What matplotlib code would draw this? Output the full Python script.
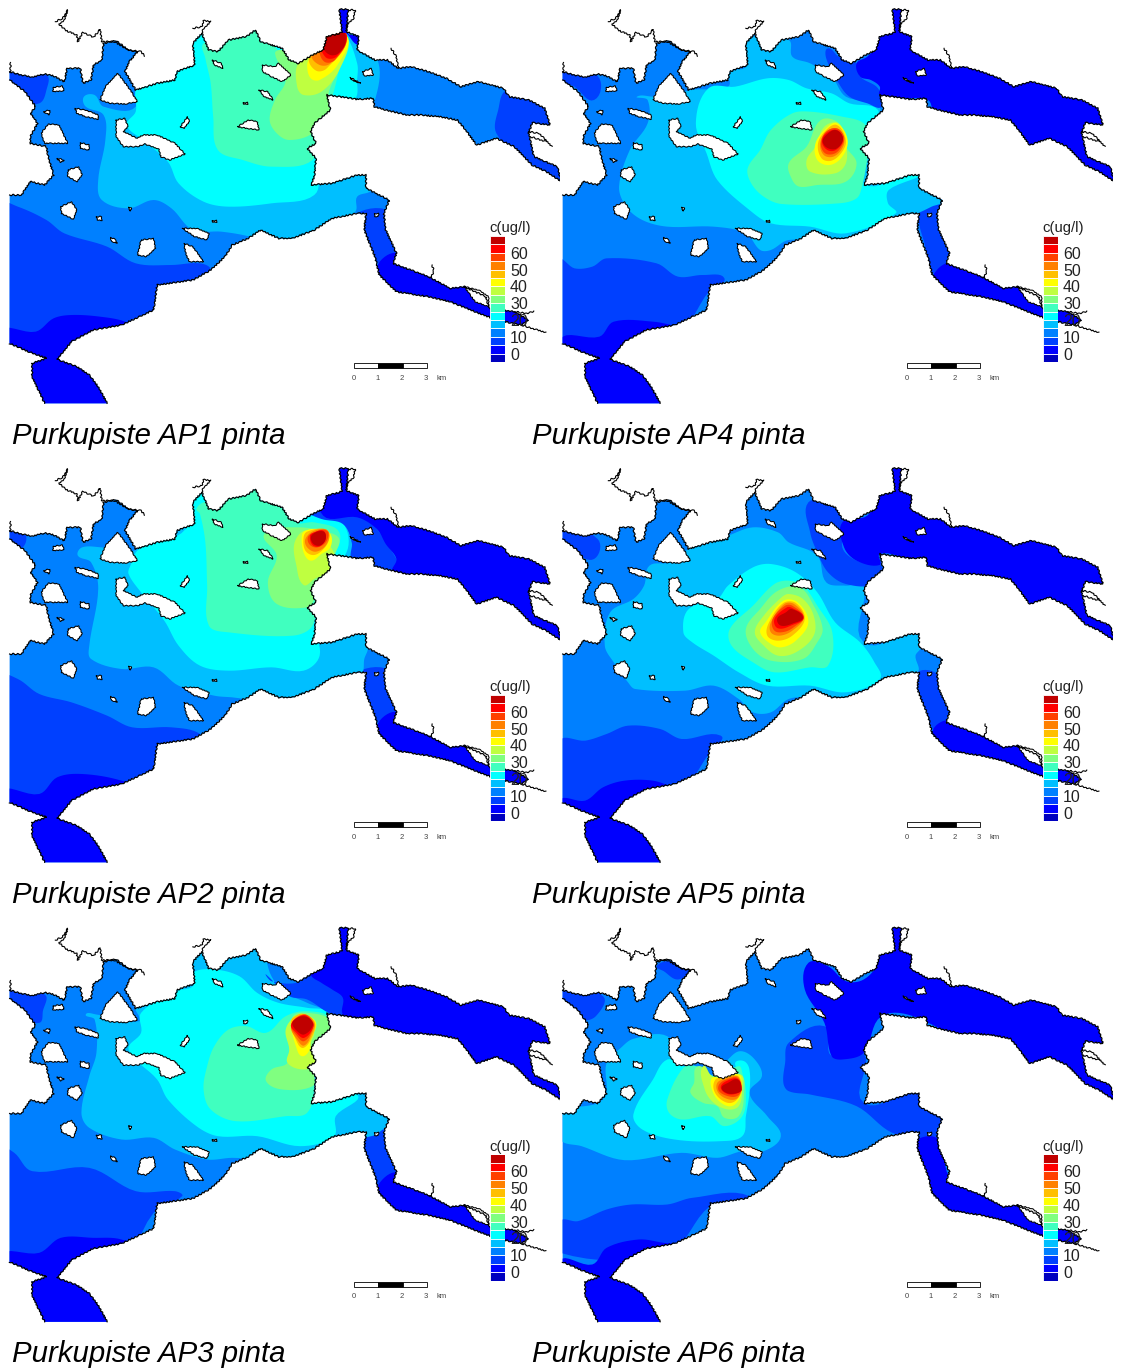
import numpy as np
import matplotlib
matplotlib.use("Agg")
from matplotlib import pyplot as plt
from matplotlib.patches import Polygon

W, H = 1123, 1371

# colour classes of the legend, lowest first (5 ug/l per class)
level_edges = [-5, 0, 5, 10, 15, 20, 25, 30, 35, 40, 45, 50, 55, 60, 65]
level_colors = ["#0000bf", "#0000ff", "#0040ff", "#0080ff", "#00bfff", "#00ffff", "#40ffbf", "#80ff80",
                "#bfff40", "#ffff00", "#ffbf00", "#ff8000", "#ff4000", "#ff0000", "#c00000"]
legend_ticks = [0, 10, 20, 30, 40, 50, 60]
scale_km = [0, 1, 2, 3]

# map outline, in map units
water = [(27,215),(60,225),(90,232),(125,222),(150,228),(180,245),(188,205),(225,205),(232,250),(255,240),
         (262,195),(285,180),(290,130),(325,122),(360,150),(385,155),(362,185),(350,215),(380,270),(440,250),
         (490,240),(495,215),(545,195),(540,130),(565,100),(585,150),(610,155),(640,120),(690,110),(715,90),
         (730,125),(790,145),(810,180),(835,190),(875,165),(905,150),(915,110),(950,100),(958,95),(950,28),
         (975,28),(970,95),(1005,110),(1000,150),(1050,180),(1085,180),(1115,205),(1150,200),(1200,215),
         (1250,235),(1290,260),(1340,245),(1410,265),(1425,290),(1480,300),(1525,325),(1540,375),(1490,368),
         (1480,400),(1495,470),(1560,500),(1572,545),(1530,515),(1490,495),(1440,440),(1390,415),(1335,435),
         (1300,385),(1280,360),(1230,350),(1180,345),(1140,345),(1080,330),(1048,320),(1045,295),(1000,298),
         (950,290),(915,285),(925,330),(880,370),(870,395),(885,430),(860,445),(885,475),(880,530),(870,555),
         (930,550),(1000,525),(1025,525),(1025,565),(1090,600),(1075,640),(1080,690),(1110,760),(1100,790),
         (1200,830),(1260,865),(1300,860),(1360,890),(1370,925),(1440,935),(1480,960),(1460,975),(1390,960),
         (1330,935),(1260,905),(1200,890),(1110,875),(1062,825),(1050,770),(1020,690),(1025,640),(1000,640),
         (930,655),(880,690),(820,715),(780,715),(730,690),(695,715),(650,735),(630,770),(590,810),(540,840),
         (440,855),(430,930),(340,975),(260,990),(200,1025),(160,1078),(215,1100),(250,1125),(275,1160),
         (300,1210),(125,1210),(90,1130),(90,1090),(130,1075),(80,1055),(27,1030),(27,585),(60,585),(85,545),
         (125,555),(150,525),(135,470),(130,440),(85,430),(85,410),(105,370),(85,340),(100,320),(70,275),(27,240)]

islands = [[(280,300),(295,260),(330,220),(365,270),(385,305),(350,312),(310,310)],
           [(150,262),(175,258),(180,272),(148,275)],
           [(115,400),(135,372),(165,375),(190,430),(125,430)],
           [(210,325),(240,330),(275,345),(275,358),(240,350),(215,340)],
           [(325,360),(350,355),(358,380),(345,395),(385,415),(400,405),(440,405),(490,430),(518,462),(475,480),
            (450,470),(445,448),(405,432),(385,440),(345,440),(325,410)],
           [(225,428),(250,435),(250,450),(225,445)],
           [(190,510),(220,500),(230,525),(215,545),(190,530)],
           [(160,475),(180,480),(170,488)],
           [(170,620),(200,605),(215,630),(205,658),(172,640)],
           [(270,650),(285,650),(285,662),(272,660)],
           [(310,712),(325,720),(328,730),(312,725)],
           [(395,720),(430,715),(435,745),(410,770),(385,765)],
           [(510,685),(550,685),(585,700),(580,720),(545,710)],
           [(515,730),(540,740),(570,785),(530,785),(520,760)],
           [(665,380),(695,360),(720,365),(725,390),(690,385)],
           [(505,380),(525,350),(530,365),(515,385)],
           [(595,180),(620,190),(625,205),(600,195)],
           [(735,195),(770,200),(780,190),(815,225),(790,245),(760,230),(735,215)],
           [(725,270),(750,275),(765,300),(740,290)],
           [(1015,215),(1040,205),(1045,225),(1020,228)],
           [(980,232),(1010,250),(985,240)],
           [(1300,860),(1340,870),(1368,890),(1368,920),(1330,905)],
           [(122,335),(140,330),(138,345)],
           [(680,305),(692,305),(692,312),(680,312)],
           [(595,660),(604,660),(604,666),(595,666)],
           [(1048,640),(1058,640),(1058,648),(1048,648)],
           [(360,622),(368,622),(365,634)]]

land_lines = [[(155,65),(175,55),(190,30),(180,60),(165,72),(185,92),(215,105),(218,125),(232,97),(262,112),
               (280,88),(285,125),(320,125),(360,150),(395,155),(405,168)],
              [(975,30),(995,30),(990,55),(975,70),(968,92)],
              [(540,85),(565,80),(570,62),(590,65),(570,85),(565,100)],
              [(1095,145),(1110,170),(1115,205)],
              [(1210,795),(1215,815),(1205,835)],
              [(1480,395),(1510,400),(1545,440)],
              [(1485,410),(1530,425)],
              [(1440,935),(1475,940),(1495,935)],
              [(1460,975),(1490,985),(1528,998)],
              [(27,185),(27,215)]]

# regions of equal concentration, (class index, outline), painted in order
ap1_bands = [(2,[(0,200),(130,225),(130,270),(110,310),(60,300),(0,240)]),
             (2,[(1395,330),(1420,270),(1500,290),(1600,380),(1600,580),(1480,500),(1390,400)]),
             (2,[(1000,640),(1100,640),(1120,760),(1060,790),(1010,700)]),
             (1,[(1060,790),(1115,760),(1600,1000),(1300,1000),(1050,870)]),
             (2,[(0,610),(50,620),(130,660),(180,700),(300,740),(380,790),(480,795),(560,790),(590,810),(560,900),(400,1000),(300,1100),(0,1100)]),
             (1,[(0,995),(100,995),(150,955),(200,945),(280,950),(350,965),(400,1000),(400,1300),(0,1300)]),
             (4,[(235,290),(265,285),(290,320),(380,320),(380,200),(900,50),(1000,100),(1060,190),(1050,300),(1020,350),(1040,500),(1040,570),(1000,590),(995,635),(900,720),(780,740),(700,710),(620,695),(540,690),(480,625),(430,600),(360,625),(285,600),(275,540),(295,420),(290,345),(240,320)]),
             (5,[(385,260),(380,335),(355,375),(400,420),(470,485),(500,550),(570,605),(640,620),(760,610),(880,585),(890,500),(900,300),(965,290),(995,295),(1000,240),(1000,190),(965,100),(900,50),(550,60),(490,200)]),
             (6,[(575,175),(590,250),(597,350),(610,450),(680,480),(760,500),(875,480),(890,380),(930,290),(955,170),(960,90),(880,140),(810,180),(720,80),(640,110),(570,130)]),
             (7,[(770,160),(800,240),(770,300),(755,360),(775,400),(810,420),(875,400),(925,330),(920,280),(950,200),(965,100),(900,130),(835,185),(790,150)]),
             (8,[(835,190),(832,260),(850,285),(900,275),(950,210),(970,105),(900,130)]),
             (9,[(860,195),(870,235),(895,240),(945,195),(970,105),(900,140),(870,170)]),
             (10,[(865,175),(885,212),(915,205),(970,115),(905,115)]),
             (11,[(872,165),(895,195),(925,190),(970,110),(905,110)]),
             (12,[(895,145),(908,185),(938,180),(970,110),(920,90)]),
             (13,[(900,125),(912,172),(942,170),(972,110),(945,85)]),
             (14,[(900,100),(905,145),(925,165),(948,160),(968,125),(955,85)]),
             (1,[(945,20),(985,20),(975,100),(1010,108),(1003,135),(970,100),(955,95)])]

ap2_bands = [(2,[(0,200),(70,225),(55,270),(0,240)]),
             (2,[(1000,640),(1100,640),(1120,760),(1060,790),(1010,700)]),
             (1,[(1060,790),(1115,760),(1600,1000),(1300,1000),(1050,870)]),
             (2,[(0,650),(50,660),(110,705),(200,730),(300,770),(370,805),(480,805),(560,825),(580,880),(400,1000),(300,1100),(0,1100)]),
             (1,[(0,1000),(110,1005),(160,955),(230,945),(340,965),(400,1000),(400,1300),(0,1300)]),
             (4,[(218,290),(230,265),(285,265),(385,270),(540,60),(700,60),(880,160),(960,190),(985,250),(990,310),(1040,400),(1030,500),(1030,570),(1020,600),(1015,640),(1000,640),(800,730),(650,715),(600,710),(500,680),(430,625),(340,630),(255,600),(250,560),(275,390),(255,310)]),
             (5,[(390,270),(365,320),(360,345),(395,400),(460,485),(500,560),(560,620),(640,635),(760,625),(850,635),(895,590),(880,500),(900,300),(965,290),(965,200),(900,170),(830,170),(700,70),(540,60),(520,210)]),
             (6,[(550,150),(560,165),(575,250),(580,380),(585,500),(640,520),(820,530),(875,500),(890,400),(930,300),(950,220),(880,190),(830,190),(720,80),(640,120),(570,130)]),
             (7,[(740,225),(775,290),(750,370),(775,435),(860,445),(880,420),(925,310),(940,280),(950,240),(920,220),(830,205)]),
             (8,[(825,250),(830,320),(850,378),(880,360),(930,330),(930,270),(860,215)]),
             (9,[(845,230),(850,280),(870,305),(900,285),(925,265),(925,225),(890,210),(855,215)]),
             (10,[(850,235),(855,275),(880,288),(910,265),(922,235),(910,210),(860,218)]),
             (11,[(855,240),(860,265),(885,278),(915,255),(918,215),(880,215)]),
             (12,[(862,235),(868,258),(890,265),(915,245),(915,215),(880,220)]),
             (13,[(868,230),(875,258),(895,262),(912,240),(905,215),(880,220)]),
             (14,[(873,228),(875,252),(895,260),(912,240),(905,217)]),
             (2,[(870,162),(1000,160),(1110,300),(1100,340),(1040,330),(985,300),(985,250),(960,195),(900,180)]),
             (1,[(900,60),(1600,100),(1600,620),(1300,450),(1100,340),(1110,300),(1080,255),(1055,210),(1000,175),(905,170)]),
             (1,[(945,20),(985,20),(975,100),(955,100)])]

ap3_bands = [(2,[(0,200),(125,225),(120,275),(110,310),(60,290),(0,240)]),
             (2,[(1020,650),(1100,640),(1120,760),(1060,795),(1020,700)]),
             (1,[(1060,795),(1115,760),(1600,1000),(1300,1000),(1050,870)]),
             (2,[(0,685),(40,700),(90,755),(250,745),(380,815),(490,815),(510,830),(430,880),(300,1100),(0,1100)]),
             (1,[(0,1010),(110,1000),(170,955),(260,955),(340,960),(400,1000),(400,1300),(0,1300)]),
             (4,[(240,285),(265,300),(270,400),(250,470),(228,580),(250,625),(340,660),(430,655),(490,690),(580,720),(650,715),(800,720),(900,680),(1040,650),(1060,640),(1090,600),(1030,540),(1020,500),(880,530),(880,300),(920,285),(860,250),(790,215),(760,170),(720,85),(560,90),(380,260),(390,305),(270,285)]),
             (5,[(395,280),(395,340),(360,390),(440,480),(470,540),(550,620),(610,650),(720,650),(840,680),(935,650),(940,590),(1000,525),(880,530),(880,300),(920,280),(860,265),(780,250),(720,220),(670,170),(600,150),(540,160),(540,200),(490,215)]),
             (6,[(640,330),(600,380),(580,440),(570,510),(590,570),(660,605),(800,590),(860,580),(880,500),(880,350),(925,300),(860,275),(800,290),(745,340),(690,320)]),
             (7,[(810,370),(805,430),(760,450),(745,485),(790,510),(875,500),(880,460),(885,400),(880,370),(925,340),(925,300),(860,280),(820,290)]),
             (8,[(800,330),(810,390),(805,430),(850,450),(885,430),(870,375),(880,340),(860,300),(830,290)]),
             (9,[(815,320),(830,385),(845,410),(865,395),(870,360),(885,310),(850,285),(820,295)]),
             (10,[(815,315),(835,375),(850,385),(870,360),(882,310),(850,283),(820,295)]),
             (11,[(815,320),(835,365),(852,378),(872,345),(880,310),(850,285)]),
             (12,[(815,315),(832,350),(852,365),(875,330),(875,305),(850,285)]),
             (13,[(815,315),(830,340),(852,355),(878,320),(870,300),(848,287)]),
             (14,[(818,312),(832,335),(852,345),(876,318),(868,298),(848,290),(828,298)]),
             (2,[(745,165),(760,185),(830,190),(870,160),(960,230),(960,292),(920,280),(860,240),(810,230)]),
             (1,[(870,70),(1600,100),(1600,620),(1300,450),(1050,340),(1000,300),(960,285),(960,235),(930,210),(900,190),(870,165)]),
             (1,[(945,20),(985,20),(975,100),(955,100)])]

ap4_bands = [(2,[(0,200),(105,228),(95,300),(40,260),(0,240)]),
             (2,[(1005,640),(1045,590),(1075,590),(1100,780),(1050,825),(1020,730)]),
             (1,[(1045,825),(1095,790),(1600,1000),(1300,1010),(1050,880)]),
             (2,[(0,780),(40,805),(90,800),(130,775),(270,790),(330,830),(400,825),(460,835),(420,870),(300,1030),(0,1030)]),
             (1,[(0,1020),(110,1010),(150,965),(260,965),(330,980),(400,1000),(400,1300),(0,1300)]),
             (4,[(215,290),(245,300),(245,370),(195,450),(165,560),(185,620),(230,660),(300,680),(430,680),(520,700),(560,750),(590,750),(640,720),(800,720),(1000,640),(1040,620),(1075,600),(1040,580),(1000,520),(900,540),(860,400),(895,320),(800,290),(760,230),(700,190),(650,170),(640,120),(540,110),(515,130),(520,200),(475,215),(470,260),(365,270),(310,290),(260,290)]),
             (5,[(415,265),(380,370),(410,460),(440,540),(530,630),(590,670),(700,680),(800,700),(940,640),(918,610),(920,570),(1005,520),(850,550),(860,380),(890,330),(810,310),(760,280),(690,265),(640,240),(580,235),(490,260)]),
             (6,[(650,340),(590,390),(560,450),(525,505),(535,550),(570,590),(620,612),(780,610),(830,595),(845,560),(860,480),(870,420),(850,370),(790,350),(700,335)]),
             (7,[(640,490),(650,540),(670,560),(720,555),(800,545),(830,490),(800,440),(780,370),(730,360),(690,440)]),
             (8,[(690,480),(700,515),(770,520),(800,490),(800,430),(780,370),(740,380),(715,440)]),
             (9,[(715,430),(720,480),(755,495),(790,470),(805,420),(775,370),(745,385)]),
             (10,[(722,430),(732,475),(760,482),(790,455),(800,420),(775,375),(745,390)]),
             (11,[(728,430),(738,465),(765,470),(790,445),(795,415),(775,385),(745,395)]),
             (12,[(730,430),(742,460),(770,460),(790,435),(795,410),(775,385),(745,395)]),
             (13,[(733,425),(748,450),(772,450),(792,420),(775,390),(745,400)]),
             (14,[(735,425),(750,445),(775,445),(792,415),(772,390),(745,405)]),
             (2,[(750,145),(780,170),(830,190),(840,230),(890,265),(900,320),(860,310),(810,290),(780,250),(745,175)]),
             (1,[(830,190),(860,170),(890,130),(900,60),(1600,60),(1600,600),(1250,480),(1050,350),(1030,300),(960,295),(895,285),(895,260),(870,240),(840,230)]),
             (1,[(925,20),(965,20),(955,100),(935,100)])]

ap5_bands = [(2,[(0,200),(105,240),(95,300),(40,280),(0,240)]),
             (2,[(1000,640),(1060,650),(1100,790),(1045,810),(1005,700)]),
             (1,[(1045,810),(1095,785),(1600,1000),(1300,1010),(1050,880)]),
             (2,[(0,845),(70,845),(130,825),(190,800),(280,810),(340,840),(450,830),(420,880),(300,1030),(0,1030)]),
             (1,[(0,1025),(70,1025),(120,985),(180,965),(260,965),(320,985),(400,1000),(400,1300),(0,1300)]),
             (4,[(250,320),(235,380),(205,420),(140,460),(125,560),(150,610),(190,670),(210,690),(350,695),(430,680),(500,720),(540,760),(590,760),(640,720),(700,715),(800,730),(880,680),(1000,640),(995,590),(1010,565),(1000,520),(850,550),(850,380),(800,380),(745,370),(720,290),(640,250),(610,220),(540,205),(470,230),(360,270),(310,310)]),
             (5,[(540,325),(470,380),(440,420),(360,450),(345,520),(370,550),(430,590),(500,640),(580,680),(700,680),(800,700),(895,660),(880,610),(840,550),(770,490),(720,400),(660,340),(590,315)]),
             (6,[(600,375),(540,440),(475,510),(480,560),(540,610),(600,640),(700,625),(750,620),(762,520),(720,440),(680,380),(640,365)]),
             (7,[(610,395),(560,450),(520,510),(540,570),(590,605),(680,600),(720,550),(735,510),(710,440),(670,385)]),
             (8,[(620,415),(570,470),(545,520),(570,560),(610,590),(660,580),(710,530),(710,470),(680,420),(640,405)]),
             (9,[(625,425),(575,490),(560,520),(590,555),(620,565),(660,545),(695,490),(665,430)]),
             (10,[(625,432),(585,490),(580,530),(610,545),(650,530),(685,480),(660,432)]),
             (11,[(628,435),(590,490),(590,520),(615,530),(650,515),(682,475),(655,435)]),
             (12,[(630,440),(595,480),(600,515),(630,518),(660,500),(682,475),(650,440)]),
             (13,[(635,445),(600,480),(610,508),(650,498),(682,475),(650,447)]),
             (14,[(632,460),(608,478),(618,500),(655,492),(680,475),(648,450)]),
             (2,[(695,130),(760,140),(800,180),(790,265),(830,305),(900,320),(880,375),(800,375),(750,340),(720,280),(700,220)]),
             (1,[(790,190),(860,170),(890,100),(900,50),(1600,60),(1600,600),(1300,480),(1030,320),(960,295),(895,285),(895,318),(830,305),(795,265)]),
             (1,[(925,20),(965,20),(955,100),(935,100)])]

ap6_bands = [(2,[(0,200),(120,230),(100,290),(60,300),(0,240)]),
             (2,[(270,140),(310,125),(360,150),(330,180),(290,155)]),
             (2,[(0,905),(50,905),(130,870),(200,855),(300,855),(370,835),(530,830),(420,860),(300,1000),(0,1000)]),
             (1,[(0,1025),(90,1035),(130,985),(220,960),(290,970),(330,975),(400,1000),(400,1300),(0,1300)]),
             (2,[(625,490),(640,515),(700,525),(830,560),(930,640),(1000,640),(1075,600),(1000,520),(850,550),(850,400),(760,410),(740,320),(640,370),(630,430)]),
             (2,[(1005,630),(1060,630),(1060,680),(1005,680)]),
             (1,[(1000,660),(1060,660),(1100,780),(1600,1000),(1300,1000),(1040,830),(1000,700)]),
             (1,[(695,130),(685,210),(740,310),(760,410),(790,420),(850,400),(900,290),(1000,295),(1300,470),(1600,600),(1600,60),(900,50),(890,130),(850,180),(800,185),(750,140)]),
             (4,[(170,385),(205,358),(300,350),(320,420),(430,470),(470,420),(505,395),(545,420),(565,470),(530,520),(580,590),(618,650),(570,695),(510,695),(440,715),(340,700),(180,722),(60,680),(0,660),(0,580),(120,540),(130,430)]),
             (5,[(300,420),(260,480),(205,585),(230,630),(320,660),(450,665),(510,650),(520,590),(530,520),(530,450),(515,425),(490,430),(500,470),(430,470),(380,440),(345,440)]),
             (6,[(345,445),(300,540),(305,580),(340,600),(420,590),(460,620),(510,590),(520,520),(510,460),(500,440),(430,470),(380,440)]),
             (7,[(375,490),(365,520),(400,550),(440,560),(460,595),(500,590),(515,520),(505,465),(430,470),(385,440)]),
             (8,[(400,440),(405,510),(430,550),(470,570),(500,560),(510,510),(505,465),(430,475)]),
             (9,[(425,475),(425,510),(445,545),(480,560),(505,530),(508,490),(500,465),(450,475)]),
             (10,[(435,480),(430,510),(450,540),(480,550),(505,525),(508,490),(495,468),(455,475)]),
             (11,[(440,490),(440,515),(460,535),(490,540),(505,520),(505,490),(495,470),(460,478)]),
             (12,[(445,495),(445,515),(470,530),(495,530),(508,510),(497,475),(465,480)]),
             (13,[(450,500),(455,515),(475,525),(500,520),(508,510),(497,478),(465,485)]),
             (14,[(452,505),(470,522),(498,520),(508,510),(497,480),(470,490)]),
             (1,[(925,20),(965,20),(955,100),(935,100)])]

panels = [("Purkupiste AP1 pinta", ap1_bands, 0, 0, 0, 0),
          ("Purkupiste AP4 pinta", ap4_bands, 20, 0, 1, 0),
          ("Purkupiste AP2 pinta", ap2_bands, 0, 0, 0, 1),
          ("Purkupiste AP5 pinta", ap5_bands, 20, 0, 1, 1),
          ("Purkupiste AP3 pinta", ap3_bands, 0, 3, 0, 2),
          ("Purkupiste AP6 pinta", ap6_bands, 20, 3, 1, 2)]

col_x = [0, 553]
row_y = [0, 459, 918.5]
caption_x = [12, 532]
caption_y = [444, 903, 1362]


def px_axes(fig, x, y, w, h):
    return fig.add_axes([x / W, 1 - (y + h) / H, w / W, h / H])


def smooth(points, n=8):
    # closed hermite curve through the read outline, the contours are round
    p = np.array(points, dtype=float)
    prev, nxt = np.roll(p, 1, axis=0), np.roll(p, -1, axis=0)
    d = nxt - prev
    d = d / np.maximum(np.hypot(d[:, 0], d[:, 1]), 1e-6)[:, None]
    t = np.linspace(0, 1, n, endpoint=False)[:, None]
    out = []
    for i in range(len(p)):
        j = (i + 1) % len(p)
        chord = np.hypot(*(p[j] - p[i]))
        out.append((2*t**3 - 3*t**2 + 1) * p[i] + (t**3 - 2*t**2 + t) * chord * d[i]
                   + (-2*t**3 + 3*t**2) * p[j] + (t**3 - t**2) * chord * d[j])
    return np.vstack(out)


def sketchy(artist, scale=0.7):
    artist.set_sketch_params(scale, 4, 2)


def draw_map(ax, bands, dx, dy):
    ax.set_xlim(0, 1568)
    ax.set_ylim(1350, 0)
    ax.axis("off")

    sea = Polygon(water, closed=True, facecolor=level_colors[3], edgecolor="none", zorder=1)
    ax.add_patch(sea)
    for level, outline in bands:
        pts = smooth([(x + dx, y + dy) for x, y in outline])
        patch = Polygon(pts, closed=True, facecolor=level_colors[level], edgecolor="none", zorder=2)
        ax.add_patch(patch)
        patch.set_clip_path(sea)

    for island in islands:
        shape = Polygon(island, closed=True, facecolor="white", edgecolor="black", lw=0.75, zorder=3)
        sketchy(shape, 0.5)
        ax.add_patch(shape)

    # no outline where the map is cut at its west and south edge
    a = water.index((300, 1210)) + 1
    b = water.index((27, 1030)) + 1
    for part in [water[:a], water[a:b], water[b:]]:
        xs, ys = zip(*part)
        l, = ax.plot(xs, ys, color="black", lw=0.85, zorder=4)
        sketchy(l)
    for line in land_lines:
        xs, ys = zip(*line)
        l, = ax.plot(xs, ys, color="black", lw=0.8, zorder=4)
        sketchy(l)

    # scale bar
    km = 67.7
    for k, c in zip(scale_km[:-1], ["white", "black", "white"]):
        ax.bar(992 + k * km, 15, width=km, bottom=1090, align="edge", color=c, edgecolor="black", lw=0.6, zorder=5)
    for k in scale_km:
        ax.text(990 + k * km, 1135, str(k), fontsize=5.5, color="#444444", ha="center", va="center", zorder=5)
    ax.text(1236, 1135, "km", fontsize=5.5, color="#444444", ha="center", va="center", zorder=5)


def draw_legend(fig, x, y):
    ax = px_axes(fig, x + 490, y + 236, 14.5, 126)
    ax.patch.set_alpha(0)
    ax.bar([0] * len(level_edges), [5] * len(level_edges), bottom=level_edges, width=1, color=level_colors,
           edgecolor="white", lw=0.6)
    ax.set_xlim(-0.5, 0.5)
    ax.set_ylim(-5, 70)
    ax.set_xticks([])
    ax.yaxis.tick_right()
    ax.set_yticks(legend_ticks)
    ax.tick_params(axis="y", length=0, pad=4, labelsize=11.5, labelcolor="#222222")
    for s in ax.spines.values():
        s.set_visible(False)
    fig.text((x + 489.5) / W, 1 - (y + 228) / H, "c(ug/l)", fontsize=10.7, color="#222222", ha="left", va="center")


plt.rcParams["font.family"] = ["Liberation Sans", "DejaVu Sans"]
fig = plt.figure(figsize=(W / 100, H / 100), dpi=100)

for caption, bands, dx, dy, col, row in panels:
    x, y = col_x[col], row_y[row]
    ax = px_axes(fig, x, y, 560, 450)
    draw_map(ax, bands, dx, dy)
    draw_legend(fig, x, y)
    fig.text(caption_x[col] / W, 1 - caption_y[row] / H, caption, fontsize=21.15, style="italic", color="black",
             ha="left", va="baseline")

fig.savefig("out.png", dpi=100, facecolor="white")
